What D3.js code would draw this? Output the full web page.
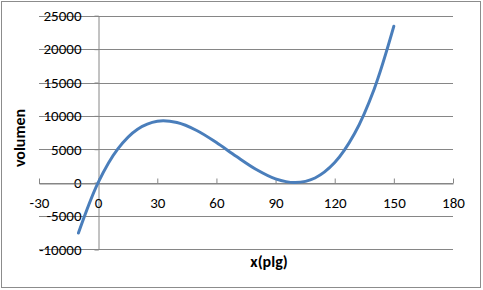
<!DOCTYPE html>
<html>
<head>
<meta charset="utf-8">
<script src="https://cdn.jsdelivr.net/npm/d3@7"></script>
<style>
    body { margin: 0; background: #fff; }
    text { font-family: Carlito, "Liberation Sans", Arial, sans-serif; fill: #000; }
</style>
</head>
<body>
<script>
// values
var xValues = [-10, 0, 10, 20, 30, 40, 50, 60, 70, 80, 90, 100, 110, 120, 130, 140, 150];
var volumen = [-7560, 0, 5060, 8000, 9190, 9000, 7810, 6000, 3940, 2000, 560, 0, 690, 3000, 7310, 14000, 23440];
var xTicks = [-30, 0, 30, 60, 90, 120, 150, 180];
var yTicks = [-10000, -5000, 0, 5000, 10000, 15000, 20000, 25000];

var W = 483, H = 290;
var tickFont = "15px";

// plain hyphen for negatives, like the original
function plain(d) { return String(d); }

var svg = d3.select("body")
    .append("svg")
    .attr("width", W)
    .attr("height", H);

// outer border of the chart
svg.append("rect")
    .attr("x", 1.5).attr("y", 1.5)
    .attr("width", 479).attr("height", 286)
    .attr("fill", "#fff")
    .attr("stroke", "#8c8c8c")
    .attr("stroke-width", 1);

var x = d3.scaleLinear().domain([-30, 180]).range([39, 453]);
var y = d3.scaleLinear().domain([-10000, 25000]).range([249.3, 15.8]);

// horizontal gridlines
svg.selectAll(".grid")
    .data(yTicks)
    .enter().append("line")
    .attr("class", "grid")
    .attr("x1", x(-30)).attr("x2", x(180))
    .attr("y1", function(d) { return Math.round(y(d)) + 0.5; })
    .attr("y2", function(d) { return Math.round(y(d)) + 0.5; })
    .attr("stroke", "#868686");

// y axis at x = 0
var yAxis = d3.axisLeft(y).tickValues(yTicks).tickSize(4).tickFormat(plain);
var gy = svg.append("g")
    .attr("transform", "translate(" + (Math.round(x(0)) + 0.5) + ",0)")
    .call(yAxis);
gy.select(".domain").attr("stroke", "#868686");
gy.selectAll(".tick line").attr("stroke", "#868686");
gy.selectAll(".tick text")
    .attr("x", 81 - Math.round(x(0)))
    .style("font-size", tickFont)
    .style("font-family", "Carlito, 'Liberation Sans', Arial, sans-serif")
    .attr("fill", "#000");

// x axis at y = 0, ticks pointing up
var xAxis = d3.axisTop(x).tickValues(xTicks).tickSize(5).tickSizeOuter(0).tickFormat(plain);
var gx = svg.append("g")
    .attr("transform", "translate(0," + (Math.round(y(0)) + 0.5) + ")")
    .call(xAxis);
gx.select(".domain").attr("stroke", "#868686");
gx.selectAll(".tick line").attr("stroke", "#868686");
gx.selectAll(".tick text")
    .attr("y", 24.5)
    .attr("dy", 0)
    .style("font-size", tickFont)
    .style("font-family", "Carlito, 'Liberation Sans', Arial, sans-serif")
    .attr("fill", "#000");

// the curve
var line = d3.line()
    .x(function(d, i) { return x(xValues[i]); })
    .y(function(d) { return y(d); })
    .curve(d3.curveCatmullRom);

svg.append("path")
    .datum(volumen)
    .attr("d", line)
    .attr("fill", "none")
    .attr("stroke", "#4a7ebb")
    .attr("stroke-width", 3)
    .attr("stroke-linecap", "round");

// axis titles
svg.append("text")
    .attr("transform", "translate(25,138) rotate(-90)")
    .attr("text-anchor", "middle")
    .style("font-size", "16px")
    .style("font-weight", "bold")
    .text("volumen");

svg.append("text")
    .attr("x", 269)
    .attr("y", 267)
    .attr("text-anchor", "middle")
    .style("font-size", "16px")
    .style("font-weight", "bold")
    .text("x(plg)");
</script>
</body>
</html>
